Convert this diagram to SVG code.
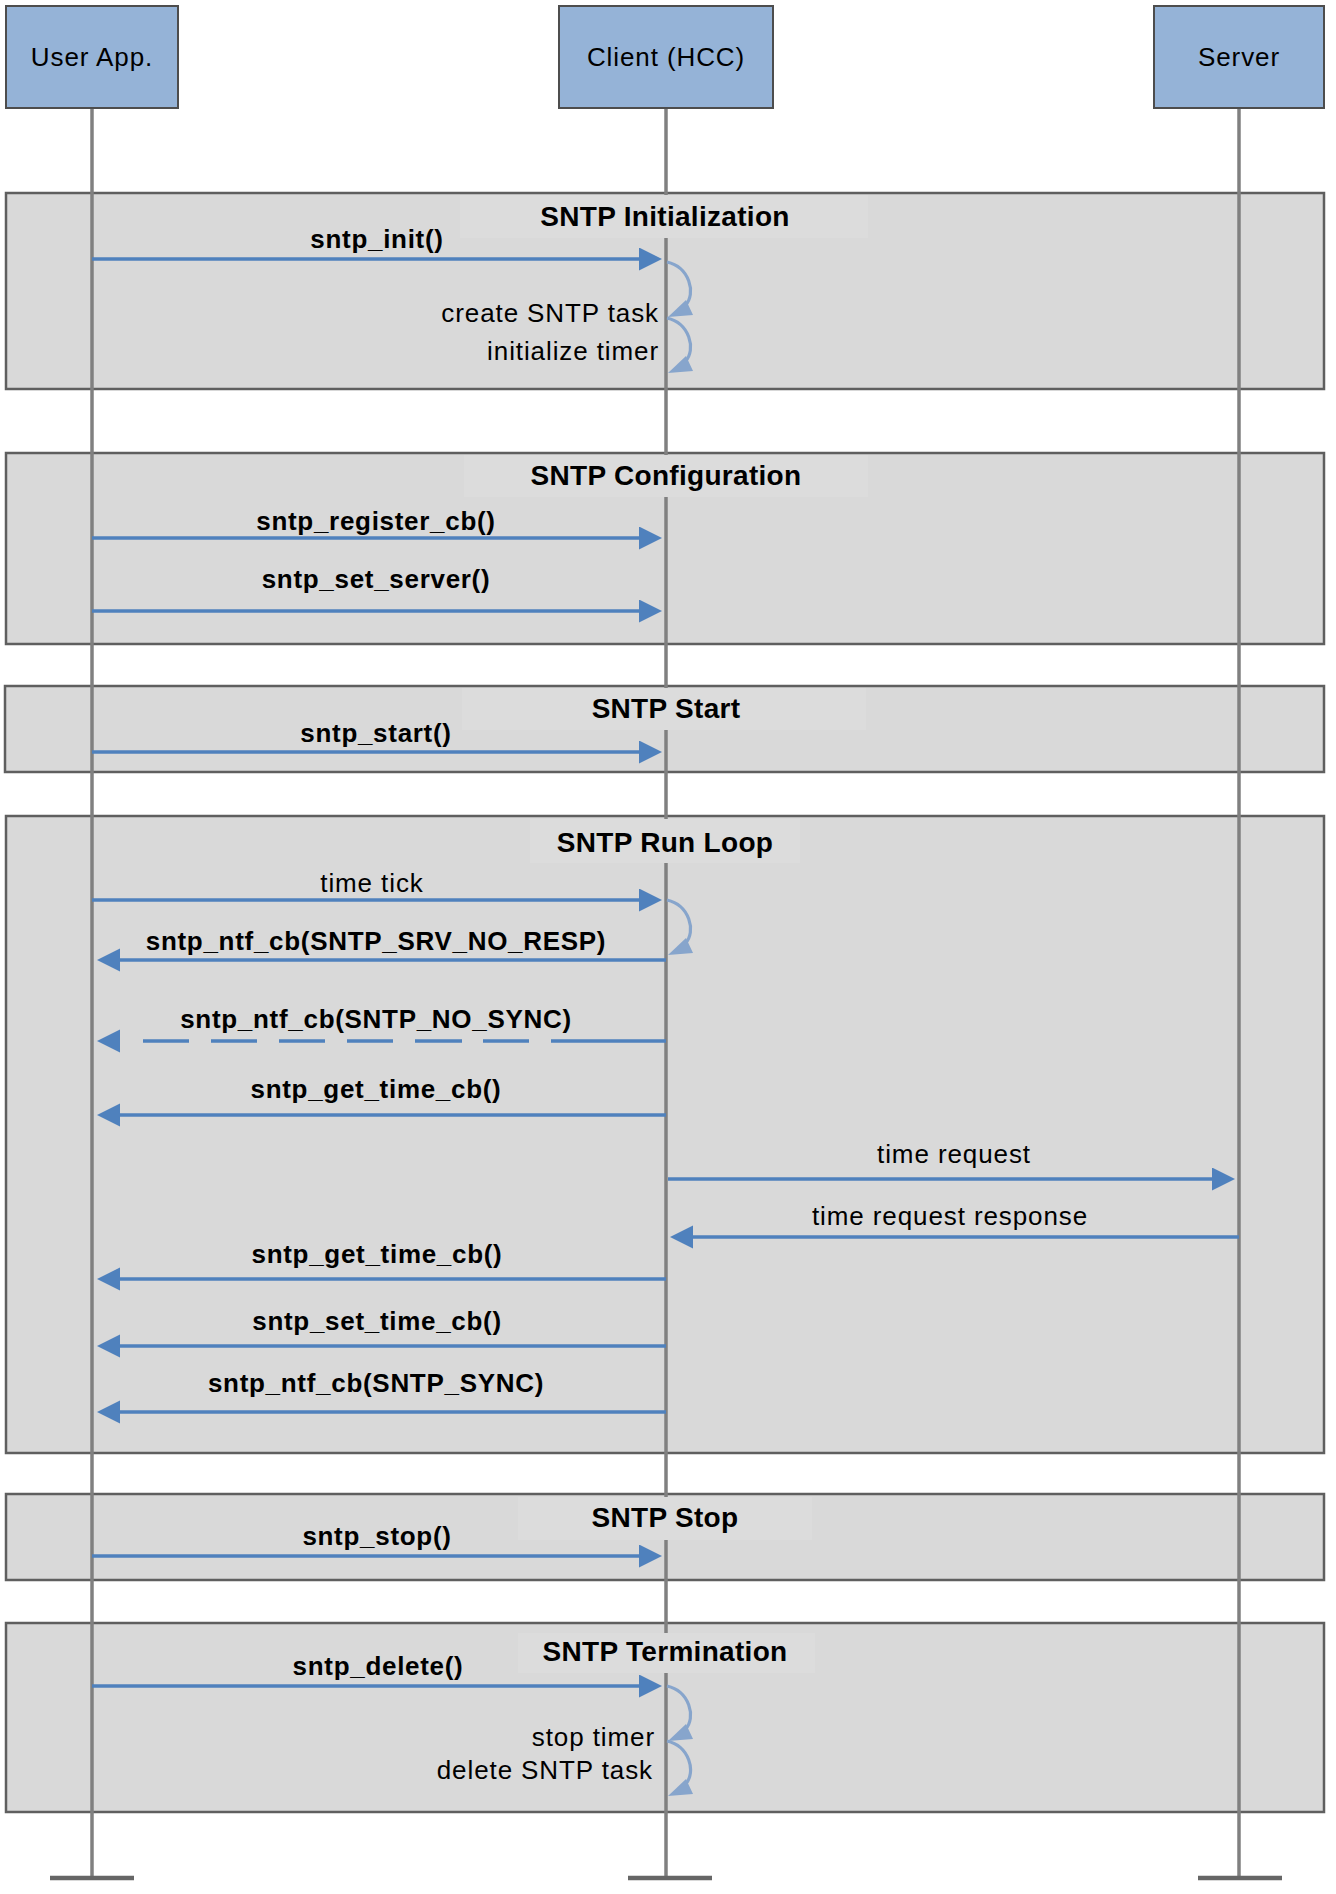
<svg xmlns="http://www.w3.org/2000/svg" width="1336" height="1894" viewBox="0 0 1336 1894">
<style>
  .sec { fill:#d9d9d9; stroke:#5f5f5f; stroke-width:2.5; }
  .trect { fill:#dcdcdc; stroke:none; }
  .title { font-family:"Liberation Sans", Arial, sans-serif; font-weight:bold; font-size:28px; letter-spacing:0.3px; fill:#000; text-anchor:middle; }
  .node rect { fill:#95b3d7; stroke:#4d4d4d; stroke-width:2; }
  .ntext { font-family:"Liberation Sans", Arial, sans-serif; font-size:26px; letter-spacing:0.9px; fill:#000; text-anchor:middle; }
  .life { stroke:#808080; stroke-width:3.5; fill:none; }
  .endbar { stroke:#666666; stroke-width:4.5; }
  .msg { stroke:#4f81bd; stroke-width:3.5; fill:none; marker-end:url(#ah); }
  .dash { stroke:#4f81bd; stroke-width:3.5; fill:none; }
  .head { fill:#4f81bd; }
  .self { stroke:#87a5cc; stroke-width:3.2; fill:none; }
  .selfhead { fill:#87a5cc; }
  .lb { font-family:"Liberation Sans", Arial, sans-serif; font-weight:bold; font-size:26px; letter-spacing:0.7px; fill:#000; text-anchor:middle; }
  .ln { font-family:"Liberation Sans", Arial, sans-serif; font-size:26px; letter-spacing:0.9px; fill:#000; text-anchor:middle; }
  .lr { font-family:"Liberation Sans", Arial, sans-serif; font-size:26px; letter-spacing:0.9px; fill:#000; text-anchor:end; }
</style>
<defs>
  <marker id="ah" markerUnits="userSpaceOnUse" markerWidth="24" markerHeight="24" refX="0" refY="11.5" orient="auto">
    <path d="M0,0 L23,11.5 L0,23 z" fill="#4f81bd"/>
  </marker>
  <g id="selfArc">
    <path class="self" d="M667,1 C689,6 697,32 685,45"/>
    <polygon class="selfhead" points="668,56 686,39 693,54"/>
  </g>
</defs>

<!-- fragments -->
<g id="frag-init"><rect class="sec" x="6" y="193" width="1318" height="196"/></g>
<g id="frag-config"><rect class="sec" x="6" y="453" width="1318" height="191"/></g>
<g id="frag-start"><rect class="sec" x="5" y="686" width="1319" height="86"/></g>
<g id="frag-run"><rect class="sec" x="6" y="816" width="1318" height="637"/></g>
<g id="frag-stop"><rect class="sec" x="6" y="1494" width="1318" height="86"/></g>
<g id="frag-term"><rect class="sec" x="6" y="1623" width="1318" height="189"/></g>

<!-- lifelines -->
<g id="lifelines">
  <line class="life" x1="92" y1="108" x2="92" y2="1878"/>
  <line class="life" x1="666" y1="108" x2="666" y2="1878"/>
  <line class="life" x1="1239" y1="108" x2="1239" y2="1878"/>
  <line class="endbar" x1="50" y1="1878" x2="134" y2="1878"/>
  <line class="endbar" x1="628" y1="1878" x2="712" y2="1878"/>
  <line class="endbar" x1="1198" y1="1878" x2="1282" y2="1878"/>
</g>

<!-- fragment titles -->
<g id="title-init"><rect class="trect" x="460" y="195" width="408" height="43"/><text class="title" x="665" y="226">SNTP Initialization</text></g>
<g id="title-config"><rect class="trect" x="464" y="455" width="404" height="42"/><text class="title" x="666" y="485">SNTP Configuration</text></g>
<g id="title-start"><rect class="trect" x="462" y="688" width="404" height="42"/><text class="title" x="666" y="718">SNTP Start</text></g>
<g id="title-run"><rect class="trect" x="530" y="819" width="270" height="44"/><text class="title" x="665" y="852">SNTP Run Loop</text></g>
<g id="title-stop"><rect class="trect" x="518" y="1497" width="294" height="43"/><text class="title" x="665" y="1527">SNTP Stop</text></g>
<g id="title-term"><rect class="trect" x="518" y="1633" width="297" height="40"/><text class="title" x="665" y="1661">SNTP Termination</text></g>

<!-- connectors -->
<g id="connectors">
  <line class="msg" x1="92" y1="259" x2="639" y2="259"/>
  <use href="#selfArc" transform="translate(0,261)"/>
  <use href="#selfArc" transform="translate(0,317)"/>

  <line class="msg" x1="92" y1="538" x2="639" y2="538"/>
  <line class="msg" x1="92" y1="611" x2="639" y2="611"/>

  <line class="msg" x1="92" y1="752" x2="639" y2="752"/>

  <line class="msg" x1="92" y1="900" x2="639" y2="900"/>
  <use href="#selfArc" transform="translate(0,899)"/>
  <line class="msg" x1="666" y1="960" x2="120" y2="960"/>
  <path class="dash" d="M143,1041 H189 M211,1041 H257 M279,1041 H325 M347,1041 H393 M415,1041 H462 M483,1041 H529 M551,1041 H666"/>
  <polygon class="head" points="97,1041 120,1029.5 120,1052.5"/>
  <line class="msg" x1="666" y1="1115" x2="120" y2="1115"/>
  <line class="msg" x1="668" y1="1179" x2="1212" y2="1179"/>
  <line class="msg" x1="1239" y1="1237" x2="693" y2="1237"/>
  <line class="msg" x1="666" y1="1279" x2="120" y2="1279"/>
  <line class="msg" x1="666" y1="1346" x2="120" y2="1346"/>
  <line class="msg" x1="666" y1="1412" x2="120" y2="1412"/>

  <line class="msg" x1="92" y1="1556" x2="639" y2="1556"/>

  <line class="msg" x1="92" y1="1686" x2="639" y2="1686"/>
  <use href="#selfArc" transform="translate(0,1685)"/>
  <use href="#selfArc" transform="translate(0,1740)"/>
</g>

<!-- labels -->
<g id="labels">
  <text class="lb" x="377" y="248">sntp_init()</text>
  <text class="lr" x="659" y="322">create SNTP task</text>
  <text class="lr" x="659" y="360">initialize timer</text>
  <text class="lb" x="376" y="530">sntp_register_cb()</text>
  <text class="lb" x="376" y="588">sntp_set_server()</text>
  <text class="lb" x="376" y="742">sntp_start()</text>
  <text class="ln" x="372" y="892">time tick</text>
  <text class="lb" x="376" y="950">sntp_ntf_cb(SNTP_SRV_NO_RESP)</text>
  <text class="lb" x="376" y="1028">sntp_ntf_cb(SNTP_NO_SYNC)</text>
  <text class="lb" x="376" y="1098">sntp_get_time_cb()</text>
  <text class="ln" x="954" y="1163">time request</text>
  <text class="ln" x="950" y="1225">time request response</text>
  <text class="lb" x="377" y="1263">sntp_get_time_cb()</text>
  <text class="lb" x="377" y="1330">sntp_set_time_cb()</text>
  <text class="lb" x="376" y="1392">sntp_ntf_cb(SNTP_SYNC)</text>
  <text class="lb" x="377" y="1545">sntp_stop()</text>
  <text class="lb" x="378" y="1675">sntp_delete()</text>
  <text class="lr" x="655" y="1746">stop timer</text>
  <text class="lr" x="653" y="1779">delete SNTP task</text>
</g>

<!-- participants -->
<g id="node-user" class="node"><rect x="6" y="6" width="172" height="102"/><text class="ntext" x="92" y="66">User App.</text></g>
<g id="node-client" class="node"><rect x="559" y="6" width="214" height="102"/><text class="ntext" x="666" y="66">Client (HCC)</text></g>
<g id="node-server" class="node"><rect x="1154" y="6" width="170" height="102"/><text class="ntext" x="1239" y="66">Server</text></g>
</svg>
